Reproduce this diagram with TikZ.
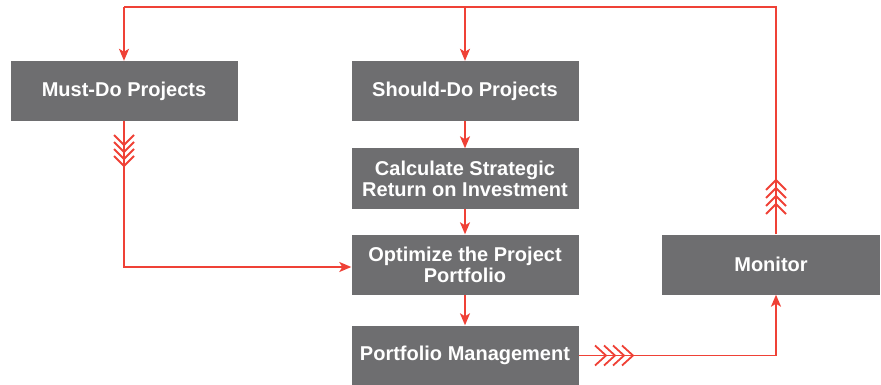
\documentclass[tikz,border=0pt]{standalone}
\usepackage{fontspec}
\setmainfont{Liberation Sans}
\usetikzlibrary{arrows.meta}
\definecolor{boxgray}{HTML}{6E6E70}
\definecolor{flowred}{HTML}{EF4136}
\tikzset{
  pbox/.style={fill=boxgray, text=white, font=\bfseries\fontsize{20}{21}\selectfont,
    align=center, inner sep=0pt, minimum width=227pt, minimum height=60pt},
  flow/.style={draw=flowred, line width=1.9pt},
  tip/.style={-{Stealth[length=12pt,width=10pt,inset=3pt]}},
  chev/.style={draw=flowred, line width=1.8pt}
}
\begin{document}
\begin{tikzpicture}[x=1pt,y=-1pt]
\useasboundingbox (0,0) rectangle (881,385);
\node[pbox] (must) at (124,91) {Must-Do Projects};
\node[pbox] (should) at (465,91) {Should-Do Projects};
\node[pbox] (calc) at (465,178.5) {Calculate Strategic\\Return on Investment};
\node[pbox] (opt) at (465,264.5) {Optimize the Project\\Portfolio};
\node[pbox] (pm) at (465,355.5) {Portfolio Management};
\node[pbox, minimum width=218pt] (mon) at (771,264.5) {Monitor};
\coordinate (tr) at (776,7);
\coordinate (tl) at (124,7);
\coordinate (tm) at (465,7);
\coordinate (bl) at (124,267);
\coordinate (br) at (776,355.5);
% feedback loop
\draw[flow] (mon.north -| tr) -- (tr) -- (tl);
\draw[flow,tip] (tl) -- (must.north);
\draw[flow,tip] (tm) -- (should.north);
% main chain
\draw[flow,tip] (should) -- (calc);
\draw[flow,tip] (calc) -- (opt);
\draw[flow,tip] (opt) -- (pm);
\draw[flow,tip] (must.south) -- (bl) -- (opt.west |- bl);
\draw[flow,tip] (pm.east) -- (br) -- (mon.south -| br);
% chevrons
\foreach \v in {145,152,159,166}
  \draw[chev] (114,\v-10) -- (124,\v) -- (134,\v-10);
\foreach \v in {180,188,196,204}
  \draw[chev] (766,\v+10) -- (776,\v) -- (786,\v+10);
\foreach \v in {606,615,624,633}
  \draw[chev] (\v-11,345.5) -- (\v,355.5) -- (\v-11,365.5);
\end{tikzpicture}
\end{document}
